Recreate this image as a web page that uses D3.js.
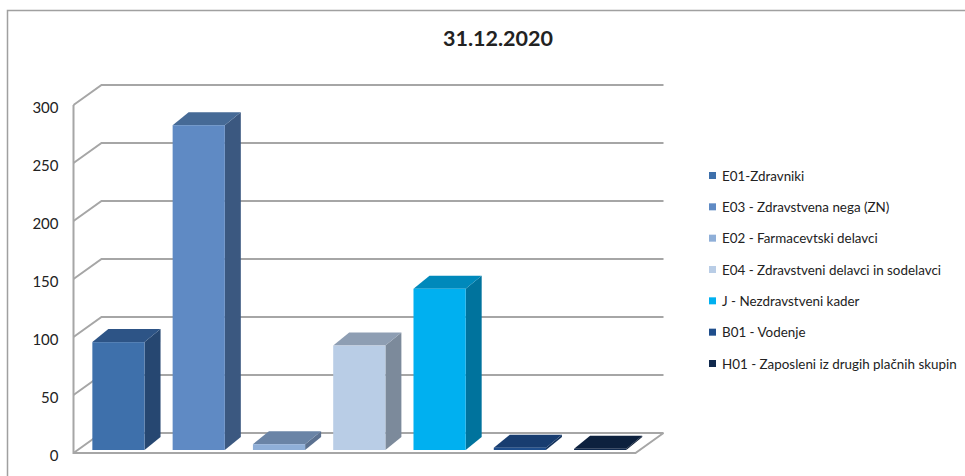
<!DOCTYPE html>
<html>
<head>
<meta charset="utf-8">
<style>
    body { margin: 0; background: #fff; }
    text { font-family: Lato, "Open Sans", sans-serif; fill: #222; }
</style>
</head>
<body>
<svg id="chart" width="965" height="476"></svg>
<script src="https://d3js.org/d3.v7.min.js"></script>
<script>
    const title = "31.12.2020";
    const categories = ["E01-Zdravniki", "E03 - Zdravstvena nega (ZN)", "E02 - Farmacevtski delavci",
        "E04 - Zdravstveni delavci in sodelavci", "J - Nezdravstveni kader", "B01 -  Vodenje",
        "H01 - Zaposleni iz drugih plačnih skupin"];
    const values = [93, 280, 5, 90, 139, 2, 1];
    const frontColors = ["#3e70ab", "#5f8ac4", "#8fafd8", "#b9cde6", "#00b0f0", "#1f4e8c", "#10294d"];
    const topColors = ["#2d5486", "#466a96", "#6a84a6", "#8e9eb3", "#0089bb", "#183d70", "#0d213e"];
    const sideColors = ["#264771", "#3b5880", "#5b7190", "#7c8a9b", "#00739d", "#14335d", "#0a1a32"];
    const ticks = [0, 50, 100, 150, 200, 250, 300];

    const left = 73.5, right = 635.5, floorY = 453, topY = 105;
    const depthX = 28, depthY = 20;      // floor depth of the 3d box
    const barDX = 4.8, barDY = 3;        // bar front sits this far in from the floor edge
    const barDepthX = 16, barDepthY = 13;
    const gridColor = "#a6a6a6";

    const svg = d3.select("#chart");

    const y = d3.scaleLinear().domain([0, 300]).range([floorY, topY]);
    const x = d3.scaleBand().domain(categories).range([left, right]).paddingInner(0.35).paddingOuter(0.175);

    // outer frame, the right and bottom sides are cut off in the picture
    svg.append("path")
        .attr("d", "M7.5,476V10.5H965")
        .attr("fill", "none").attr("stroke", "#a0a0a0").attr("stroke-width", 1.5);

    // walls and gridlines
    const grid = svg.append("g").attr("fill", "none").attr("stroke", gridColor).attr("stroke-width", 2);
    grid.selectAll("path")
        .data(ticks)
        .enter()
        .append("path")
        .attr("d", d => `M${left},${y(d)}L${left + depthX},${y(d) - depthY}H${right + depthX}`);
    grid.append("path")
        .attr("d", `M${left},${y(300)}V${floorY}H${right}L${right + depthX},${floorY - depthY}`);

    // tick labels
    svg.selectAll(".tick-label")
        .data(ticks)
        .enter()
        .append("text")
        .attr("class", "tick-label")
        .attr("x", 58.5)
        .attr("y", d => y(d) + 2.5)
        .attr("dy", "0.35em")
        .attr("text-anchor", "end")
        .style("font-size", "15px")
        .text(d => d);

    // bars: side and top drawn first, then the front face
    const bars = svg.selectAll(".bar")
        .data(categories)
        .enter()
        .append("g")
        .attr("class", "bar");

    const bw = x.bandwidth();
    const barX = d => x(d) + barDX;
    const barBase = floorY - barDY;
    const barTop = (d, i) => barBase - (y(0) - y(values[i]));

    bars.append("path")
        .attr("fill", (d, i) => sideColors[i])
        .attr("d", (d, i) => `M${barX(d) + bw},${barBase}l${barDepthX},${-barDepthY}V${barTop(d, i) - barDepthY}l${-barDepthX},${barDepthY}Z`);
    bars.append("path")
        .attr("fill", (d, i) => topColors[i])
        .attr("d", (d, i) => `M${barX(d)},${barTop(d, i)}l${barDepthX},${-barDepthY}h${bw}l${-barDepthX},${barDepthY}Z`);
    bars.append("rect")
        .attr("fill", (d, i) => frontColors[i])
        .attr("x", barX)
        .attr("y", barTop)
        .attr("width", bw)
        .attr("height", (d, i) => barBase - barTop(d, i));

    svg.append("text")
        .attr("x", 498).attr("y", 46)
        .attr("text-anchor", "middle")
        .style("font-size", "21.5px")
        .style("font-weight", "700")
        .text(title);

    // legend
    const legendY = d3.scalePoint().domain(categories).range([176, 364]);
    const legend = svg.selectAll(".legend-item")
        .data(categories)
        .enter()
        .append("g")
        .attr("class", "legend-item");
    legend.append("rect")
        .attr("x", 709)
        .attr("y", d => legendY(d) - 4)
        .attr("width", 7).attr("height", 7)
        .attr("fill", (d, i) => frontColors[i]);
    legend.append("text")
        .attr("x", 722)
        .attr("y", d => legendY(d))
        .attr("dy", "0.35em")
        .style("font-size", "13.4px")
        .text(d => d);
</script>
</body>
</html>
